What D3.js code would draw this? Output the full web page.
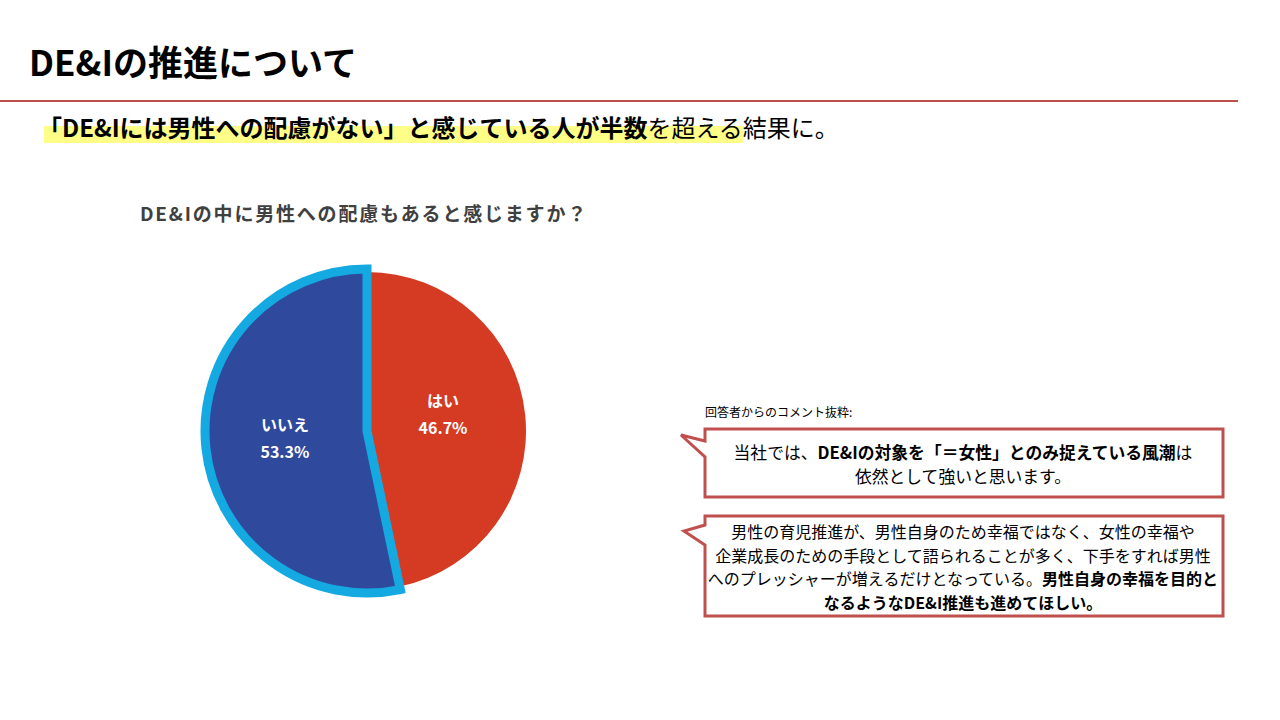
<!DOCTYPE html>
<html>
<head>
<meta charset="utf-8">
<script src="https://cdn.jsdelivr.net/npm/d3@7"></script>
<style>
  body { margin: 0; background: #fff; }
  svg { font-family: "Noto Sans CJK JP", "Noto Sans", sans-serif; }
</style>
</head>
<body>
<div id="chart"></div>
<script>
// data
var categories = ["はい", "いいえ"];
var values = [46.7, 53.3];
var colors = ["#d53a22", "#2f4a9d"];

var width = 1280, height = 720;

var svg = d3.select("#chart").append("svg")
    .attr("width", width)
    .attr("height", height);

// page title
svg.append("text")
    .attr("x", 29).attr("y", 76)
    .attr("font-size", 35).attr("font-weight", "bold")
    .attr("fill", "#000")
    .text("DE&Iの推進について");

svg.append("line")
    .attr("x1", 0).attr("x2", 1238)
    .attr("y1", 101).attr("y2", 101)
    .attr("stroke", "#b9504a").attr("stroke-width", 2);

// subtitle with marker highlight
var hl = svg.append("rect")
    .attr("y", 126)
    .attr("height", 17)
    .attr("fill", "#ffff88");

var sub = svg.append("text")
    .attr("x", 38).attr("y", 137)
    .attr("font-size", 24)
    .attr("fill", "#000");
var s1 = sub.append("tspan").attr("font-weight", "bold").text("「DE&Iには男性への配慮がない」と感じている人が半数");
var s2 = sub.append("tspan").text("を超える");
sub.append("tspan").text("結果に。");

var hlEnd = 38 + s1.node().getComputedTextLength() + s2.node().getComputedTextLength();
hl.attr("x", 44).attr("width", hlEnd - 44);

// chart title
svg.append("text")
    .attr("x", 140).attr("y", 221)
    .attr("font-size", 19).attr("font-weight", "bold")
    .attr("fill", "#404040")
    .attr("letter-spacing", 1.8)
    .text("DE&Iの中に男性への配慮もあると感じますか？");

// pie
var cx = 367, cy = 431, r = 159;

var pie = d3.pie().sort(null).value(function(d) { return d; });
var arcs = pie(values);

var arc = d3.arc().innerRadius(0).outerRadius(r);
var arcBig = d3.arc().innerRadius(0).outerRadius(r + 3);
var labelArc = d3.arc().innerRadius(r * 0.5).outerRadius(r * 0.5);

var g = svg.append("g").attr("transform", "translate(" + cx + "," + cy + ")");

g.selectAll(".slice")
    .data(arcs)
  .enter().append("path")
    .attr("class", "slice")
    .attr("d", function(d, i) { return i === 1 ? arcBig(d) : arc(d); })
    .attr("fill", function(d, i) { return colors[i]; })
    .attr("stroke", function(d, i) { return i === 1 ? "#15a9e1" : "none"; })
    .attr("stroke-width", 9)
    .attr("stroke-linejoin", "miter");

var labels = g.selectAll(".lbl")
    .data(arcs)
  .enter().append("text")
    .attr("class", "lbl")
    .attr("transform", function(d, i) {
      var c = labelArc.centroid(d);
      // the first label sits a little higher than its centroid
      return "translate(" + (c[0] - 3) + "," + (c[1] - (i === 0 ? 8 : 0)) + ")";
    })
    .attr("text-anchor", "middle")
    .attr("fill", "#fff")
    .attr("font-weight", "bold")
    .attr("font-size", 16);

labels.append("tspan")
    .attr("x", 0).attr("dy", "-0.5em")
    .text(function(d, i) { return categories[i]; });
labels.append("tspan")
    .attr("x", 0).attr("dy", "1.7em")
    .text(function(d) { return d.data.toFixed(1) + "%"; });

// comments
svg.append("text")
    .attr("x", 705).attr("y", 417)
    .attr("font-size", 12).attr("fill", "#000")
    .text("回答者からのコメント抜粋:");

function callout(x, y, w, h, tail) {
  var p = "M" + x + "," + y +
    " H" + (x + w) + " V" + (y + h) + " H" + x +
    " V" + tail[2] + " L" + tail[0] + "," + tail[1] + " L" + x + "," + tail[3] + " Z";
  svg.append("path")
    .attr("d", p)
    .attr("fill", "#fff")
    .attr("stroke", "#c0504d")
    .attr("stroke-width", 3)
    .attr("stroke-linejoin", "miter");
}

callout(705, 429, 518, 68, [681, 435, 457, 441]);
callout(705, 516, 518, 100, [684, 531, 545, 525]);

function lines(data, x, y0, step, size) {
  data.forEach(function(parts, i) {
    var t = svg.append("text")
      .attr("x", x).attr("y", y0 + i * step)
      .attr("text-anchor", "middle")
      .attr("font-size", size)
      .attr("fill", "#000");
    parts.forEach(function(p) {
      t.append("tspan").attr("font-weight", p[1] ? "bold" : "normal").text(p[0]);
    });
  });
}

lines([
  [["当社では、", false], ["DE&Iの対象を「＝女性」とのみ捉えている風潮", true], ["は", false]],
  [["依然として強いと思います。", false]]
], 963, 459, 24, 16.8);

lines([
  [["男性の育児推進が、男性自身のため幸福ではなく、女性の幸福や", false]],
  [["企業成長のための手段として語られることが多く、下手をすれば男性", false]],
  [["へのプレッシャーが増えるだけとなっている。", false], ["男性自身の幸福を目的と", true]],
  [["なるようなDE&I推進も進めてほしい。", true]]
], 963, 538, 23.5, 16);
</script>
</body>
</html>
